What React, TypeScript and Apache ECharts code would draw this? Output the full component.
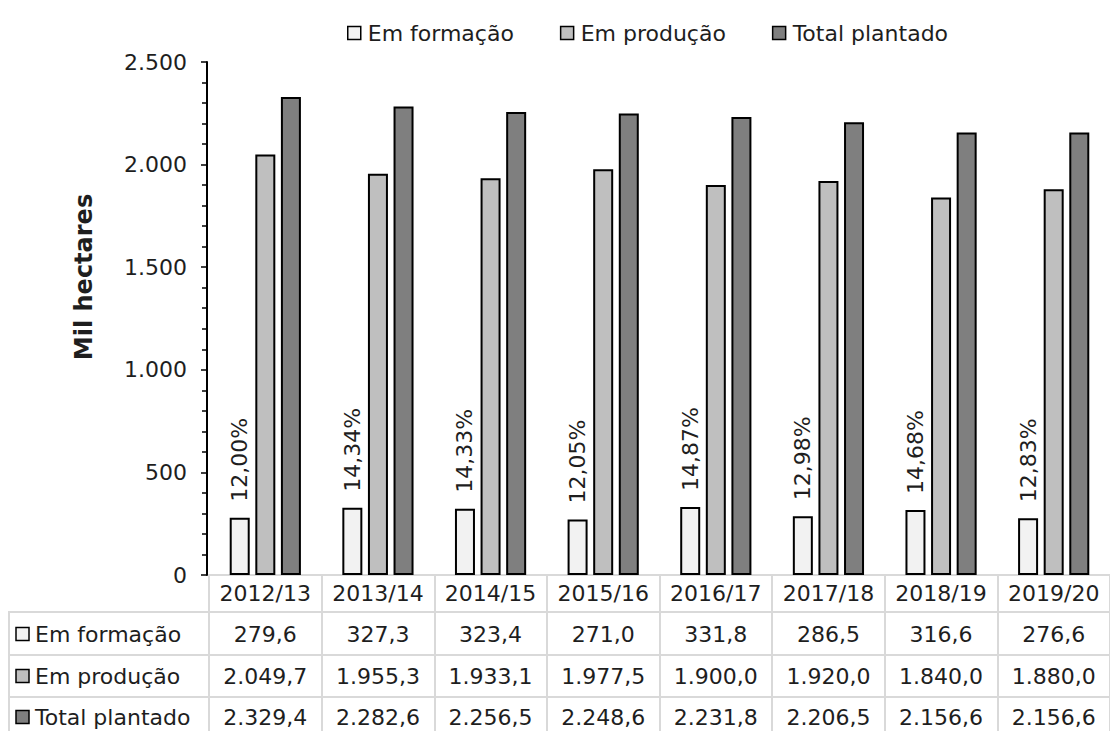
import React, { useEffect, useRef } from 'react';
import * as echarts from 'echarts';

// Área de café por safra (mil hectares)
const categories = ['2012/13', '2013/14', '2014/15', '2015/16', '2016/17', '2017/18', '2018/19', '2019/20'];
const emFormacao = [279.6, 327.3, 323.4, 271.0, 331.8, 286.5, 316.6, 276.6];
const emProducao = [2049.7, 1955.3, 1933.1, 1977.5, 1900.0, 1920.0, 1840.0, 1880.0];
const totalPlantado = [2329.4, 2282.6, 2256.5, 2248.6, 2231.8, 2206.5, 2156.6, 2156.6];
const seriesNames = ['Em formação', 'Em produção', 'Total plantado'];
const seriesColors = ['#f2f2f2', '#bfbfbf', '#7f7f7f'];
const yAxisName = 'Mil hectares';

const FONT = 'DejaVu Sans';
const TEXT = '#1e1e1e';
const GRID_LINE = '#d9d9d9';

function fmtBR(v: number, digits: number): string {
  const [i, f] = v.toFixed(digits).split('.');
  return i.replace(/\B(?=(\d{3})+(?!\d))/g, '.') + (f ? ',' + f : '');
}

export default function App() {
  const ref = useRef<HTMLDivElement>(null);

  useEffect(() => {
    if (!ref.current) return;
    const chart = echarts.init(ref.current, undefined, { renderer: 'svg' });
    const allSeries = [emFormacao, emProducao, totalPlantado];

    chart.setOption({
      animation: false,
      backgroundColor: '#ffffff',
      textStyle: { fontFamily: FONT, color: TEXT },
      legend: {
        top: 17,
        left: 342,
        itemWidth: 13,
        itemHeight: 13,
        itemGap: 46,
        icon: 'rect',
        itemStyle: { borderColor: '#000', borderWidth: 1.5 },
        textStyle: { fontFamily: FONT, fontSize: 22, color: TEXT, padding: [0, 0, 0, 2] },
        data: seriesNames,
      },
      grid: { left: 209, right: -7, top: 62, bottom: 156, containLabel: false },
      xAxis: {
        type: 'category',
        data: categories,
        axisLine: { show: true, lineStyle: { color: GRID_LINE, width: 2 } },
        axisTick: { show: true, interval: 0, length: 170, lineStyle: { color: GRID_LINE, width: 2 } },
        axisLabel: {
          interval: 0,
          fontFamily: FONT,
          fontSize: 22,
          color: TEXT,
          margin: 18,
          verticalAlign: 'middle',
        },
      },
      yAxis: {
        type: 'value',
        min: 0,
        max: 2500,
        interval: 500,
        offset: 2,
        axisLine: { show: true, lineStyle: { color: '#000', width: 2 } },
        axisTick: { show: true, length: 6, lineStyle: { color: '#000', width: 1.5 } },
        minorTick: { show: true, splitNumber: 5, length: 5, lineStyle: { color: '#000', width: 1.5 } },
        splitLine: { show: false },
        axisLabel: {
          fontFamily: FONT,
          fontSize: 22,
          color: TEXT,
          margin: 20,
          formatter: (v: number) => fmtBR(v, 0),
        },
      },
      series: allSeries.map((data, s) => ({
        name: seriesNames[s],
        type: 'bar',
        data,
        barWidth: 20,
        barGap: '28%',
        itemStyle: { color: seriesColors[s], borderColor: '#000', borderWidth: 2 },
        label:
          s === 0
            ? {
                show: true,
                position: 'top',
                rotate: 90,
                align: 'left',
                verticalAlign: 'middle',
                distance: 16,
                fontFamily: FONT,
                fontSize: 22,
                color: TEXT,
                formatter: (p: any) =>
                  fmtBR((emFormacao[p.dataIndex] / totalPlantado[p.dataIndex]) * 100, 2) + '%',
              }
            : { show: false },
      })),
    });

    // Tabela de dados sob o eixo das categorias
    const rowLines = [612, 655, 697];
    const rowCenters = [634, 676, 717];
    const graphics: any[] = [];
    graphics.push({
      type: 'text',
      x: 84,
      y: 277,
      rotation: Math.PI / 2,
      style: {
        text: yAxisName,
        fontFamily: FONT,
        fontSize: 24,
        fontWeight: 'bold',
        fill: TEXT,
        align: 'center',
        verticalAlign: 'middle',
      },
    });
    rowLines.forEach((y) => {
      graphics.push({
        type: 'line',
        shape: { x1: 9, y1: y, x2: 1110, y2: y },
        style: { stroke: GRID_LINE, lineWidth: 2 },
      });
    });
    graphics.push({
      type: 'line',
      shape: { x1: 9, y1: 611, x2: 9, y2: 731 },
      style: { stroke: GRID_LINE, lineWidth: 2 },
    });
    allSeries.forEach((data, r) => {
      const cy = rowCenters[r];
      graphics.push({
        type: 'rect',
        shape: { x: 16, y: cy - 6.5, width: 13, height: 13 },
        style: { fill: seriesColors[r], stroke: '#000', lineWidth: 1.5 },
      });
      graphics.push({
        type: 'text',
        x: 35,
        y: cy,
        style: {
          text: seriesNames[r],
          fontFamily: FONT,
          fontSize: 22,
          fill: TEXT,
          align: 'left',
          verticalAlign: 'middle',
        },
      });
      data.forEach((v, i) => {
        const px = chart.convertToPixel({ xAxisIndex: 0 }, categories[i]) as number;
        graphics.push({
          type: 'text',
          x: px,
          y: cy,
          style: {
            text: fmtBR(v, 1),
            fontFamily: FONT,
            fontSize: 22,
            fill: TEXT,
            align: 'center',
            verticalAlign: 'middle',
          },
        });
      });
    });
    chart.setOption({ graphic: graphics });

    return () => chart.dispose();
  }, []);

  return (
    <div
      ref={ref}
      style={{ position: 'fixed', left: 0, top: 0, width: 1110, height: 731, background: '#fff' }}
    />
  );
}
